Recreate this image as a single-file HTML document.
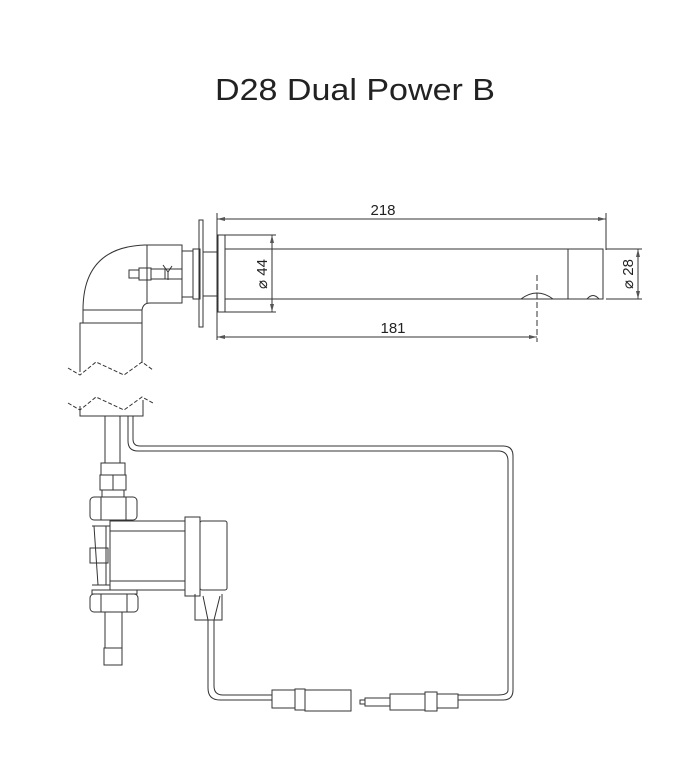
<!DOCTYPE html>
<html><head><meta charset="utf-8"><style>
html,body{margin:0;padding:0;background:#fff;}
svg{display:block;}
text{font-family:"Liberation Sans",sans-serif;fill:#222;}
</style></head><body>
<svg width="685" height="778" viewBox="0 0 685 778" xmlns="http://www.w3.org/2000/svg">
<text x="355" y="100" font-size="31" text-anchor="middle" textLength="280" lengthAdjust="spacingAndGlyphs" font-weight="300">D28 Dual Power B</text>
<g fill="none" stroke="#333" stroke-width="1">
<!-- elbow -->
<path d="M83 310 Q83 247 145 245 L182 245 L182 303 L150 303 Q143 303 142 310"/>
<line x1="147" y1="245" x2="147" y2="303"/>
<rect x="83" y="310" width="59" height="13"/>
<path d="M80 372 L80 323 L142 323 L142 363"/>
<path d="M68 368 L80 375 L96 362 L124 375 L142 362 L153 370" stroke-dasharray="4,2"/>
<path d="M68 403 L80 410 L96 397 L124 410 L142 397 L153 403" stroke-dasharray="4,2"/>
<path d="M80 406 L80 416 L143 416 L143 400"/>
<!-- connector pin -->
<rect x="129" y="270" width="10" height="8"/>
<rect x="139" y="268" width="12" height="12"/>
<rect x="151" y="269" width="14" height="10"/>
<path d="M163 265 L168 272 L172 266 M168 272 L168 280"/>
<rect x="165" y="269" width="17" height="10"/>
<!-- fittings -->
<rect x="182" y="251" width="11" height="46"/>
<rect x="193" y="249" width="7" height="50"/>
<rect x="199" y="220" width="4" height="107"/>
<rect x="203" y="252" width="15" height="44"/>
<rect x="218" y="235" width="7" height="77"/>
<!-- tube -->
<path d="M225 249 L603 249 L603 299 L225 299"/>
<line x1="568" y1="249" x2="568" y2="299"/>
<path d="M521 299 Q537 287 553 299"/>
<path d="M587 299 Q593 292 599 299"/>
<line x1="537" y1="275" x2="537" y2="342" stroke-dasharray="6,3"/>
<!-- dims -->
<line x1="217" y1="213" x2="217" y2="340"/>
<line x1="606" y1="213" x2="606" y2="250"/>
<line x1="217" y1="219" x2="606" y2="219"/>
<line x1="217" y1="337" x2="537" y2="337"/>
<line x1="225" y1="235" x2="276" y2="235"/>
<line x1="225" y1="312" x2="276" y2="312"/>
<line x1="272" y1="235" x2="272" y2="312"/>
<line x1="606" y1="249" x2="642" y2="249"/>
<line x1="606" y1="299" x2="642" y2="299"/>
<line x1="638" y1="249" x2="638" y2="299"/>
</g>
<g fill="#555">
<path d="M217 219 l8 -2 l0 4z"/><path d="M606 219 l-8 -2 l0 4z"/>
<path d="M217 337 l8 -2 l0 4z"/><path d="M537 337 l-8 -2 l0 4z"/>
<path d="M272 235 l-2 8 l4 0z"/><path d="M272 312 l-2 -8 l4 0z"/>
<path d="M638 249 l-2 8 l4 0z"/><path d="M638 299 l-2 -8 l4 0z"/>
</g>
<text x="383" y="215" font-size="15" text-anchor="middle">218</text>
<text x="393" y="333" font-size="15" text-anchor="middle">181</text>
<text transform="translate(267 274) rotate(-90)" font-size="15" text-anchor="middle">⌀ 44</text>
<text transform="translate(633 274) rotate(-90)" font-size="15" text-anchor="middle">⌀ 28</text>
<g fill="none" stroke="#333" stroke-width="1">
<!-- lower pipes -->
<line x1="105" y1="416" x2="105" y2="463"/>
<line x1="120" y1="416" x2="120" y2="463"/>
<path d="M128 416 L128 441 Q128 451 138 451 L498 451 Q508 451 508 461 L508 690 Q508 695 498 695 L458 695"/>
<path d="M133 416 L133 439 Q133 446 140 446 L503 446 Q513 446 513 456 L513 690 Q513 700 503 700 L458 700"/>
<rect x="101" y="463" width="24" height="12"/>
<rect x="100" y="475" width="26" height="15"/>
<line x1="113" y1="475" x2="113" y2="490"/>
<rect x="102" y="490" width="22" height="7"/>
<rect x="90" y="497" width="47" height="23" rx="4"/>
<line x1="101" y1="497" x2="101" y2="520"/><line x1="126" y1="497" x2="126" y2="520"/>
<rect x="110" y="521" width="75" height="69"/>
<line x1="110" y1="531" x2="185" y2="531"/><line x1="110" y1="581" x2="185" y2="581"/>
<rect x="185" y="517" width="15" height="79"/>
<rect x="200" y="521" width="27" height="69" rx="2"/>
<path d="M92 526 L110 526 M92 585 L110 585 M94 526 L98 585 M106 526 L106 585"/>
<rect x="90" y="548" width="18" height="15"/>
<rect x="92" y="590" width="45" height="4"/>
<rect x="90" y="594" width="48" height="18" rx="4"/>
<line x1="101" y1="594" x2="101" y2="612"/><line x1="127" y1="594" x2="127" y2="612"/>
<line x1="105" y1="612" x2="105" y2="648"/><line x1="122" y1="612" x2="122" y2="648"/>
<rect x="104" y="648" width="18" height="17"/>
<path d="M195 594 L195 620 L222 620 L222 594"/>
<path d="M203 596 L208 620 M220 596 L214 620"/>
<path d="M208 620 L208 688 Q208 700 220 700 L272 700"/>
<path d="M214 620 L214 686 Q214 695 223 695 L272 695"/>
<!-- plugs -->
<rect x="272" y="690" width="23" height="18"/>
<rect x="295" y="689" width="10" height="21"/>
<rect x="305" y="690" width="46" height="21"/>
<rect x="360" y="700" width="5" height="4"/>
<rect x="365" y="698" width="25" height="8"/>
<rect x="390" y="694" width="35" height="16"/>
<rect x="425" y="692" width="12" height="19"/>
<rect x="437" y="694" width="21" height="14"/>
</g>
</svg>
</body></html>
